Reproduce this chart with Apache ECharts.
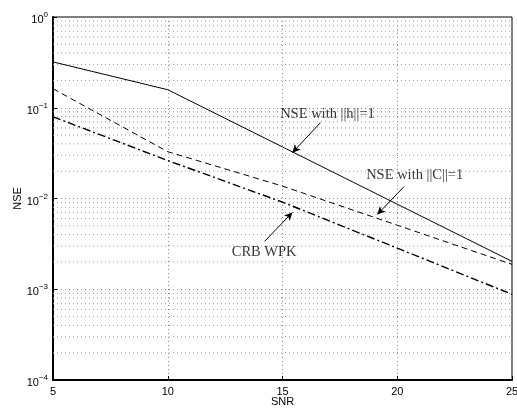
<!DOCTYPE html>
<html>
<head>
<meta charset="utf-8">
<script src="https://cdn.jsdelivr.net/npm/echarts@6/dist/echarts.min.js"></script>
<style>
  html, body { margin: 0; padding: 0; background: #fff; }
  #chart { width: 517px; height: 408px; }
</style>
</head>
<body>
<div id="chart"></div>
<script>
// SNR points
var snr = [5, 10, 15, 20, 25];
// NSE curves
var nseH = [0.32, 0.158, 0.037, 0.00865, 0.00203];
var nseC = [0.162, 0.0328, 0.0137, 0.00508, 0.00188];
var crbWpk = [0.0796, 0.0262, 0.00912, 0.00284, 0.00088];

// minor log grid values (2..9 in each decade)
var minorGrid = [];
[1e-4, 1e-3, 1e-2, 1e-1].forEach(function (d) {
  for (var k = 2; k <= 9; k++) minorGrid.push(+(d * k).toPrecision(3));
});

// annotation texts and arrows  [x, y] in data units
var noteText = ['NSE with ||h||=1', 'NSE with ||C||=1', 'CRB WPK'];
var notePos = [[16.96, 0.0859], [20.76, 0.0179], [14.2, 0.00255]];
var arrowFrom = [[16.65, 0.0684], [20.3, 0.01355], [14.22, 0.00337]];
var arrowTo = [[15.43, 0.032], [19.13, 0.00667], [15.43, 0.00702]];

var chart = echarts.init(document.getElementById('chart'));

function pair(a) { return snr.map(function (x, i) { return [x, a[i]]; }); }

// horizontal dotted lines across the full x range, broken between values
var minorData = [];
minorGrid.forEach(function (v) {
  minorData.push([5, v], [25, v], [25, '-']);
});

var option = {
  animation: false,
  grid: {
    left: 53, right: 5, top: 17, bottom: 28, outerBoundsMode: 'none',
    show: true, borderColor: '#000', borderWidth: 1
  },
  xAxis: {
    type: 'value', min: 5, max: 25, interval: 5,
    name: 'SNR', nameLocation: 'middle', nameGap: 16, nameMoveOverlap: false,
    nameTextStyle: { fontFamily: 'Liberation Sans', fontSize: 11, color: '#000' },
    axisLine: { show: true, lineStyle: { color: '#000', width: 2 } },
    axisTick: { inside: true, length: 4, lineStyle: { color: '#000' } },
    axisLabel: { fontFamily: 'Liberation Sans', fontSize: 11, color: '#000', margin: 6 },
    splitLine: { show: true, lineStyle: { type: [1, 3], color: '#888' } }
  },
  yAxis: {
    type: 'log', logBase: 10, min: 1e-4, max: 1,
    name: 'NSE', nameLocation: 'middle', nameGap: 30, nameMoveOverlap: false,
    nameTextStyle: { fontFamily: 'Liberation Sans', fontSize: 11, color: '#000' },
    axisLine: { show: true, lineStyle: { color: '#000', width: 2 } },
    axisTick: { inside: true, length: 4, lineStyle: { color: '#000' } },
    axisLabel: {
      margin: 5,
      formatter: function (v) {
        var e = Math.round(Math.log10(v));
        return '{b|10}{s|' + (e < 0 ? '\u2212' + (-e) : e) + '}';
      },
      rich: {
        b: { fontFamily: 'Liberation Sans', fontSize: 11, color: '#000', lineHeight: 14, padding: [6, 0, 0, 0] },
        s: { fontFamily: 'Liberation Sans', fontSize: 8, color: '#000', lineHeight: 14, padding: [0, 0, 4, 0] }
      }
    },
    splitLine: { show: true, lineStyle: { type: [1, 3], color: '#888' } }
  },
  series: [
    {
      name: 'minor grid', type: 'line', data: minorData, silent: true,
      symbol: 'none', connectNulls: false, z: 1,
      lineStyle: { type: [1, 3], color: '#999', width: 1 }
    },
    {
      name: 'NSE ||h||=1', type: 'line', data: pair(nseH), symbol: 'none',
      lineStyle: { color: '#000', width: 1 }
    },
    {
      name: 'NSE ||C||=1', type: 'line', data: pair(nseC), symbol: 'none',
      lineStyle: { color: '#000', width: 1, type: [6, 4] }
    },
    {
      name: 'CRB WPK', type: 'line', data: pair(crbWpk), symbol: 'none',
      lineStyle: { color: '#000', width: 1.4, type: [8, 3, 2, 3] }
    },
    {
      name: 'notes', type: 'scatter', symbolSize: 0,
      data: notePos.map(function (p, i) { return { value: p, name: noteText[i] }; }),
      label: {
        show: true, position: 'inside', formatter: '{b}',
        fontFamily: 'Liberation Serif', fontSize: 14.5, color: '#000'
      },
      markLine: {
        silent: true, symbol: ['none', 'arrow'], symbolSize: [6, 8], label: { show: false },
        lineStyle: { color: '#000', width: 1, type: 'solid' },
        data: arrowFrom.map(function (p, i) { return [{ coord: p }, { coord: arrowTo[i] }]; })
      }
    }
  ]
};

chart.setOption(option);
</script>
</body>
</html>
